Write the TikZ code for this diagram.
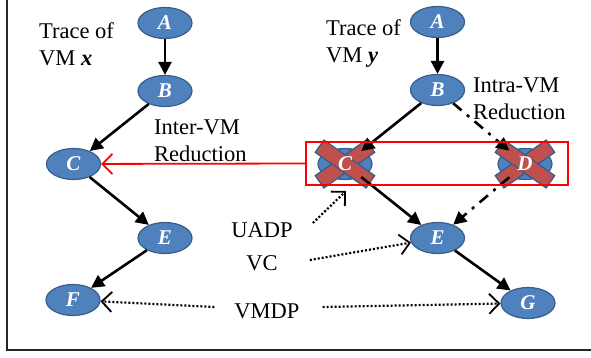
\documentclass[tikz,border=0pt]{standalone}
\usepackage{fontspec}
\setmainfont{Liberation Serif}
\usepackage{tikz}
\usetikzlibrary{calc,positioning,arrows.meta,shapes}

\definecolor{nodeblue}{RGB}{79,129,189}
\definecolor{nodeedge}{RGB}{56,93,138}
\definecolor{crossred}{RGB}{192,80,77}

\tikzset{
    state/.style={ellipse, draw=nodeedge, fill=nodeblue, line width=1.2pt,
        minimum width=54pt, minimum height=31pt, inner sep=0pt,
        text=white, font=\fontsize{21}{21}\selectfont\bfseries\itshape},
    flow/.style={-{Triangle[length=13pt,width=13pt]}, line width=2.6pt},
    skip/.style={flow, dash pattern=on 11pt off 7pt on 3pt off 7pt},
    hint/.style={-{Straight Barb[length=10pt,width=20pt,line width=1.8pt]},
        line width=2.2pt, dash pattern=on 2pt off 2pt},
    note/.style={align=left, inner sep=0pt, font=\fontsize{22.5}{27}\selectfont},
    xbar/.style={fill=crossred, draw=nodeedge, line width=1.3pt},
}

% red X over a removed state
\newcommand{\dropstate}[1]{%
    \foreach \ang in {35,-35}
        \filldraw[xbar, rotate around={\ang:(#1.center)}]
            ($(#1.center)+(-31,-7.5)$) rectangle ($(#1.center)+(31,7.5)$);
}

\begin{document}
\begin{tikzpicture}[x=1pt, y=-1pt]
    \useasboundingbox (0,0) rectangle (591,358);
    \draw[line width=2pt, black!85] (7,0) -- (7,350) -- (591,350);

    % trace of VM x
    \node [state] (ax) at (165,23) {A};
    \node [state] (bx) at (165,91) {B};
    \node [state] (cx) at (73.5,164) {C};
    \node [state] (ex) at (165,238) {E};
    \node [state] (fx) at (73,300) {F};

    % trace of VM y
    \node [state] (ay) at (437.5,22) {A};
    \node [state] (by) at (437.5,90) {B};
    \node [state] (cy) at (345,164) {};
    \node [state] (dy) at (525,164) {};
    \node [state] (ey) at (437.5,238) {E};
    \node [state] (gy) at (528,303) {G};

    \dropstate{cy}
    \dropstate{dy}
    \node [state, draw=none, fill=none] (cytext) at (cy) {C};
    \node [state, draw=none, fill=none] (dytext) at (dy) {D};

    \node [note, anchor=west] (tracex) at (39,44) {Trace of\\VM \textbf{\textit{x}}};
    \node [note, anchor=west] (tracey) at (326,44) {Trace of\\VM \textbf{\textit{y}}};
    \node [note, anchor=west] (intra) at (473,99) {Intra-VM\\Reduction};
    \node [note, anchor=west] (inter) at (154,141) {Inter-VM\\Reduction};
    \node [note] (uadp) at (262,230) {UADP};
    \node [note] (vc) at (262,263) {VC};
    \node [note] (vmdp) at (267,311) {VMDP};

    \draw[flow] (ax) -- (bx);
    \draw[flow] (bx) -- (cx);
    \draw[flow] (cx) -- (ex);
    \draw[flow] (ex) -- (fx);

    \draw[flow] (ay) -- (by);
    \draw[flow] (by) -- (cy);
    \draw[flow] (cy) -- (ey);
    \draw[flow] (ey) -- (gy);
    \draw[skip] (by) -- (dy);
    \draw[skip] (dy) -- (ey);

    % merged states
    \draw[red, line width=1.8pt] (306,142) rectangle (568,185);
    \coordinate (boxwest) at (306,163.5);
    \draw[red, line width=1.8pt, -{Straight Barb[length=10pt,width=20pt,line width=1.8pt]}]
        (boxwest) -- (cx);

    \coordinate (uadptip) at (346,191);
    \draw[hint] (uadp.east |- 0,223) ++(20,0) -- (uadptip);
    \draw[hint] ($(vc.east)+(32,-3)$) -- (ey);
    \draw[hint] ($(vmdp.west)+(-20,-4)$) -- (fx);
    \draw[hint] ($(vmdp.east)+(23,-4)$) -- (gy);
\end{tikzpicture}
\end{document}
